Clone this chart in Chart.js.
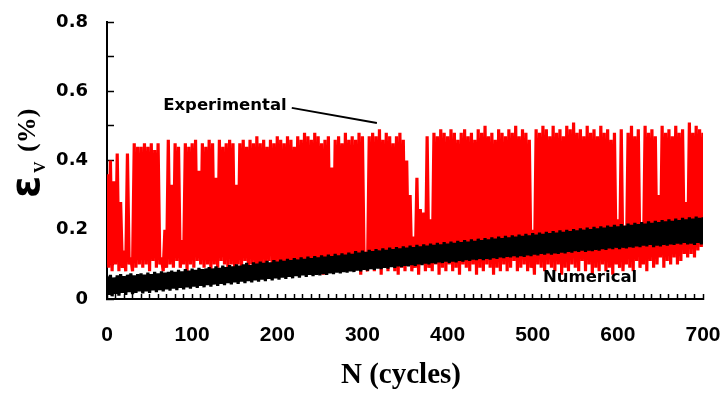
<!DOCTYPE html>
<html>
<head>
<meta charset="utf-8">
<script src="https://cdn.jsdelivr.net/npm/chart.js@4"></script>
<style>
html,body{margin:0;padding:0;background:#fff;}
#wrap{width:728px;height:405px;position:relative;}
</style>
</head>
<body>
<div id="wrap"><canvas id="c" width="728" height="405"></canvas></div>
<script>
// ---- Data ----
// Experimental (red): peaks at N = 0,4,8,...,700 ; troughs at N = 2,6,...,698
const expPeaks = [
0.36,0.40,0.34,0.42,0.28,0.14,0.42,0.12,0.45,0.44,
0.44,0.45,0.44,0.45,0.43,0.45,0.12,0.20,0.46,0.33,
0.45,0.44,0.17,0.45,0.44,0.45,0.46,0.37,0.45,0.44,
0.46,0.45,0.35,0.46,0.44,0.45,0.46,0.45,0.33,0.45,
0.46,0.44,0.46,0.45,0.47,0.45,0.46,0.44,0.46,0.45,
0.47,0.46,0.45,0.47,0.46,0.44,0.47,0.46,0.48,0.47,
0.46,0.48,0.47,0.45,0.46,0.47,0.38,0.46,0.47,0.45,
0.48,0.46,0.47,0.46,0.48,0.47,0.10,0.47,0.48,0.47,
0.49,0.46,0.48,0.47,0.45,0.47,0.48,0.46,0.40,0.30,
0.18,0.35,0.26,0.25,0.47,0.23,0.48,0.47,0.49,0.48,
0.47,0.49,0.48,0.46,0.48,0.49,0.47,0.48,0.46,0.49,
0.48,0.50,0.47,0.48,0.46,0.49,0.48,0.47,0.49,0.48,
0.50,0.47,0.49,0.48,0.46,0.20,0.49,0.48,0.50,0.49,
0.47,0.50,0.48,0.49,0.47,0.50,0.49,0.51,0.48,0.49,
0.47,0.50,0.48,0.49,0.47,0.50,0.48,0.49,0.46,0.48,
0.23,0.49,0.21,0.48,0.50,0.47,0.49,0.22,0.50,0.48,
0.49,0.47,0.30,0.50,0.48,0.49,0.47,0.50,0.48,0.49,
0.28,0.51,0.48,0.50,0.49,0.48
];
const expTroughs = [
0.09,0.08,0.10,0.08,0.09,0.08,0.10,0.08,0.09,0.10,
0.09,0.10,0.08,0.11,0.09,0.10,0.08,0.09,0.10,0.09,
0.11,0.09,0.10,0.08,0.10,0.09,0.11,0.10,0.09,0.10,
0.08,0.10,0.09,0.11,0.10,0.09,0.10,0.08,0.10,0.09,
0.11,0.09,0.10,0.09,0.08,0.10,0.09,0.11,0.10,0.09,
0.10,0.08,0.09,0.10,0.09,0.11,0.08,0.10,0.09,0.10,
0.08,0.09,0.10,0.07,0.09,0.10,0.08,0.09,0.11,0.08,
0.09,0.10,0.08,0.09,0.07,0.10,0.08,0.09,0.08,0.10,
0.07,0.09,0.08,0.10,0.08,0.07,0.09,0.08,0.10,0.08,
0.09,0.07,0.10,0.08,0.09,0.08,0.10,0.07,0.09,0.08,
0.10,0.08,0.09,0.07,0.10,0.09,0.08,0.10,0.07,0.09,
0.08,0.10,0.09,0.07,0.09,0.08,0.10,0.08,0.09,0.11,
0.08,0.09,0.10,0.08,0.09,0.07,0.10,0.09,0.08,0.10,
0.09,0.08,0.10,0.07,0.09,0.08,0.10,0.09,0.08,0.11,
0.08,0.10,0.07,0.09,0.08,0.10,0.08,0.09,0.07,0.10,
0.09,0.08,0.10,0.09,0.08,0.11,0.09,0.10,0.08,0.11,
0.09,0.10,0.12,0.09,0.11,0.10,0.12,0.10,0.11,0.13,
0.12,0.13,0.12,0.14,0.15
];
// Numerical (black): peaks at N = 0,4,...,700 ; troughs at N = 2,6,...,698
const numPeaks = [
0.065,0.070,0.062,0.068,0.072,0.066,0.070,0.074,0.068,0.072,
0.074,0.070,0.076,0.072,0.078,0.074,0.080,0.076,0.078,0.082,
0.078,0.084,0.080,0.086,0.082,0.088,0.084,0.090,0.086,0.088,
0.092,0.088,0.094,0.090,0.096,0.092,0.098,0.094,0.100,0.096,
0.100,0.104,0.098,0.106,0.102,0.108,0.104,0.110,0.106,0.112,
0.108,0.114,0.110,0.116,0.112,0.118,0.114,0.120,0.116,0.122,
0.118,0.124,0.120,0.126,0.122,0.128,0.124,0.130,0.126,0.132,
0.128,0.134,0.130,0.138,0.134,0.140,0.136,0.142,0.138,0.144,
0.140,0.146,0.142,0.148,0.144,0.150,0.146,0.152,0.148,0.154,
0.150,0.156,0.152,0.158,0.154,0.160,0.156,0.162,0.158,0.164,
0.160,0.166,0.162,0.168,0.164,0.170,0.166,0.172,0.168,0.174,
0.170,0.176,0.172,0.178,0.174,0.180,0.176,0.182,0.178,0.184,
0.180,0.186,0.182,0.188,0.184,0.190,0.186,0.192,0.188,0.194,
0.190,0.196,0.192,0.198,0.194,0.200,0.196,0.202,0.198,0.204,
0.200,0.206,0.202,0.208,0.204,0.210,0.206,0.212,0.208,0.214,
0.210,0.216,0.212,0.218,0.214,0.220,0.216,0.222,0.218,0.224,
0.220,0.226,0.222,0.228,0.224,0.230,0.226,0.232,0.228,0.234,
0.230,0.236,0.232,0.238,0.234,0.236
];
const numTroughs = [
0.012,0.008,0.015,0.010,0.018,0.012,0.020,0.014,0.018,0.022,
0.016,0.022,0.018,0.025,0.020,0.026,0.022,0.028,0.024,0.030,
0.026,0.032,0.028,0.034,0.030,0.036,0.032,0.038,0.034,0.040,
0.036,0.042,0.038,0.044,0.040,0.046,0.042,0.048,0.044,0.050,
0.046,0.052,0.048,0.054,0.050,0.056,0.052,0.058,0.054,0.060,
0.056,0.062,0.058,0.064,0.060,0.066,0.062,0.068,0.064,0.070,
0.066,0.070,0.068,0.072,0.070,0.074,0.072,0.076,0.074,0.078,
0.076,0.080,0.078,0.082,0.080,0.084,0.082,0.086,0.084,0.088,
0.086,0.090,0.088,0.092,0.090,0.094,0.092,0.096,0.094,0.098,
0.096,0.100,0.098,0.102,0.100,0.104,0.102,0.106,0.104,0.108,
0.104,0.108,0.106,0.110,0.108,0.112,0.110,0.114,0.112,0.116,
0.112,0.116,0.114,0.118,0.116,0.120,0.118,0.122,0.120,0.124,
0.120,0.124,0.122,0.126,0.124,0.128,0.126,0.130,0.128,0.132,
0.128,0.132,0.130,0.134,0.132,0.136,0.134,0.138,0.136,0.140,
0.136,0.140,0.138,0.142,0.140,0.144,0.142,0.146,0.144,0.148,
0.144,0.148,0.146,0.150,0.148,0.152,0.150,0.154,0.152,0.156,
0.150,0.154,0.152,0.156,0.154,0.158,0.156,0.160,0.158,0.162,
0.158,0.160,0.156,0.162,0.158
];
const cycleStep = 4;            // cycles between successive peaks
const xTickValues = [0,100,200,300,400,500,600,700];
const yTickValues = [0,0.2,0.4,0.6,0.8];
const yTickLabels = ['0','0.2','0.4','0.6','0.8'];
const labelExp = 'Experimental';
const labelNum = 'Numerical';
const xTitle = 'N (cycles)';

// build zig-zag series (peak, trough, peak, ...)
function zigzag(peaks, troughs){
  const pts = [];
  for (let i = 0; i < peaks.length; i++){
    pts.push({x: i*cycleStep, y: peaks[i]});
    if (i < troughs.length) pts.push({x: i*cycleStep + cycleStep/2, y: troughs[i]});
  }
  return pts;
}

const overlay = {
  id: 'overlay',
  afterDraw(chart){
    const ctx = chart.ctx, xs = chart.scales.x, ys = chart.scales.y;
    ctx.save();
    ctx.fillStyle = '#000';
    ctx.textBaseline = 'alphabetic';
    // in-plot labels
    ctx.font = 'bold 16.5px "DejaVu Sans"';
    ctx.textAlign = 'left';
    ctx.fillText(labelExp, xs.getPixelForValue(66), ys.getPixelForValue(0.547));
    ctx.font = 'bold 16.5px "DejaVu Sans"';
    ctx.fillText(labelNum, xs.getPixelForValue(512), ys.getPixelForValue(0.049));
    // leader line
    ctx.strokeStyle = '#000';
    ctx.lineWidth = 2;
    ctx.beginPath();
    ctx.moveTo(xs.getPixelForValue(217), ys.getPixelForValue(0.552));
    ctx.lineTo(xs.getPixelForValue(317), ys.getPixelForValue(0.508));
    ctx.stroke();
    // x title
    ctx.font = 'bold 29px "Liberation Serif"';
    ctx.textAlign = 'center';
    ctx.fillText(xTitle, 401, 383);
    // y title (rotated)
    ctx.rotate(-Math.PI/2);
    ctx.textAlign = 'left';
    ctx.font = 'bold 40px "DejaVu Sans"';
    ctx.fillText('\u03B5', -198, 39);
    ctx.font = 'bold 16px "Liberation Serif"';
    ctx.fillText('V', -173, 45);
    ctx.font = 'bold 26px "Liberation Serif"';
    ctx.fillText('(%)', -152, 35);
    ctx.restore();
  }
};

new Chart(document.getElementById('c'), {
  type: 'line',
  data: {
    datasets: [
      {
        label: labelNum,
        data: zigzag(numPeaks, numTroughs),
        borderColor: '#000000',
        borderWidth: 3.2,
        borderJoinStyle: 'bevel',
        pointRadius: 0,
        tension: 0,
        fill: false,
        order: 1
      },
      {
        label: labelExp,
        data: zigzag(expPeaks, expTroughs),
        borderColor: '#ff0000',
        borderWidth: 3.2,
        borderJoinStyle: 'bevel',
        pointRadius: 0,
        tension: 0,
        fill: false,
        order: 2
      }
    ]
  },
  options: {
    responsive: false,
    animation: false,
    events: [],
    layout: { padding: { top: 22, right: 25, left: 0, bottom: 0 } },
    plugins: { legend: { display: false }, tooltip: { enabled: false } },
    scales: {
      x: {
        type: 'linear',
        min: 0, max: 700,
        z: 1,
        border: { display: true, color: '#000', width: 2 },
        grid: { drawOnChartArea: false, drawTicks: true, tickLength: -5, color: '#000', tickColor: '#000', tickWidth: 1.5 },
        ticks: {
          stepSize: 10,
          autoSkip: false,
          maxRotation: 0,
          padding: 29,
          color: '#000',
          font: { family: '"Liberation Sans", Arial', size: 21, weight: 'bold' },
          callback: (v) => xTickValues.includes(v) ? String(v) : ''
        },
        afterFit: (s) => { s.height = 106; s.paddingLeft = 0; s.paddingRight = 0; s.paddingTop = 0; s.paddingBottom = 0; }
      },
      y: {
        min: 0, max: 0.8,
        z: 1,
        border: { display: true, color: '#000', width: 2 },
        grid: { drawOnChartArea: false, drawTicks: true, tickLength: -7, color: '#000', tickColor: '#000', tickWidth: 1.5 },
        ticks: {
          stepSize: 0.1,
          autoSkip: false,
          padding: 26,
          color: '#000',
          font: { family: '"DejaVu Sans"', size: 18, weight: 'bold' },
          callback: (v) => {
            const k = yTickValues.findIndex(t => Math.abs(t - v) < 1e-6);
            return k >= 0 ? yTickLabels[k] : '';
          }
        },
        afterFit: (s) => { s.width = 107; s.paddingLeft = 0; s.paddingRight = 0; s.paddingTop = 0; s.paddingBottom = 0; }
      }
    }
  },
  plugins: [overlay]
});
</script>
</body>
</html>
